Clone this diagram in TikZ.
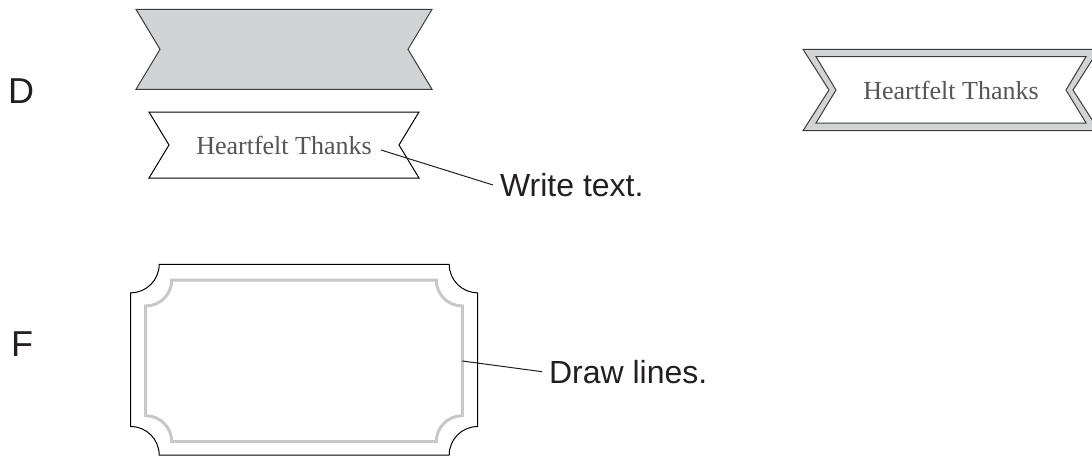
\documentclass[tikz,border=0pt]{standalone}
\usepackage{fontspec}
\usetikzlibrary{positioning}
\newfontfamily\stepfont{Liberation Sans}
\newfontfamily\cardfont{Liberation Serif}
\definecolor{ribbongray}{HTML}{D1D3D4}
\definecolor{edgegray}{HTML}{3C3C3C}
\definecolor{cardtext}{HTML}{555555}
\definecolor{framegray}{HTML}{C8C8C8}
\definecolor{inkblack}{HTML}{231F20}

\begin{document}
\begin{tikzpicture}[x=0.5pt,y=0.5pt]
	\tikzset{
	%ribbon outlines
	ribbon/.style={draw=edgegray, line width=0.5pt, line join=miter},
	ribbonfill/.style={ribbon, fill=ribbongray},
	% greeting text on the ribbons
	greeting/.style={
		text=cardtext,
		font=\cardfont\fontsize{13}{15}\selectfont},
	% step letters and hints
	steplabel/.style={
		text=inkblack,
		font=\stepfont\fontsize{18}{21}\selectfont},
	hint/.style={
		text=inkblack,
		anchor=west,
		font=\stepfont\fontsize{16}{19}\selectfont},
	% leader lines
	leader/.style={draw=inkblack, line width=0.5pt}
}
	\clip (0,0) rectangle (1092,457);

	%step D
	\node[steplabel] (stepD) at (21,365.5) {D};
	% plain grey ribbon
	\draw[ribbonfill] (136,447.7) -- (432,447.7) -- (408,407.7) -- (432,367.7)
		-- (136,367.7) -- (160,407.7) -- cycle;
	% ribbon with text
	\draw[ribbon,draw=black,fill=white] (149,345) -- (419,345) -- (399,312) -- (419,279)
		-- (149,279) -- (169,312) -- cycle;
	\node[greeting] (thanksD) at (284,312) {Heartfelt Thanks};
	\node[hint] (writetext) at (493,272) {Write text.};
	\coordinate (wt-start) at (381,307);
	\draw[leader] (wt-start) -- (writetext.west);

	% finished ribbon
	\draw[ribbonfill] (803,407.7) -- (1099,407.7) -- (1073,367) -- (1099,326.3)
		-- (803,326.3) -- (829,367) -- cycle;
	\draw[ribbon,fill=white] (816,400.3) -- (1086,400.3) -- (1066,367) -- (1086,334)
		-- (816,334) -- (836,367) -- cycle;
	\node[greeting] (thanksDone) at (951,367) {Heartfelt Thanks};

	%step F
	\node[steplabel] (stepF) at (22,112.5) {F};
	% outer card edge
	\draw[line width=0.5pt, draw=black] (159.2,192.7) -- (449.2,192.7)
		arc[start angle=180, end angle=270, radius=28.5] -- (477.7,30.5)
		arc[start angle=90, end angle=180, radius=28.5] -- (159.2,2)
		arc[start angle=0, end angle=90, radius=28.5] -- (130.7,164.2)
		arc[start angle=270, end angle=360, radius=28.5] -- cycle;
	% inner grey line
	\draw[line width=1.5pt, draw=framegray] (171.7,177) -- (436.3,177)
		arc[start angle=180, end angle=270, radius=26] -- (462.3,41.3)
		arc[start angle=90, end angle=180, radius=26] -- (171.7,15.3)
		arc[start angle=0, end angle=90, radius=26] -- (145.7,151)
		arc[start angle=270, end angle=360, radius=26] -- cycle;
	\node[hint] (drawlines) at (542,85.3) {Draw lines.};
	\coordinate (dl-start) at (462.3,96);
	\draw[leader] (dl-start) -- (drawlines.west);
\end{tikzpicture}
\end{document}
